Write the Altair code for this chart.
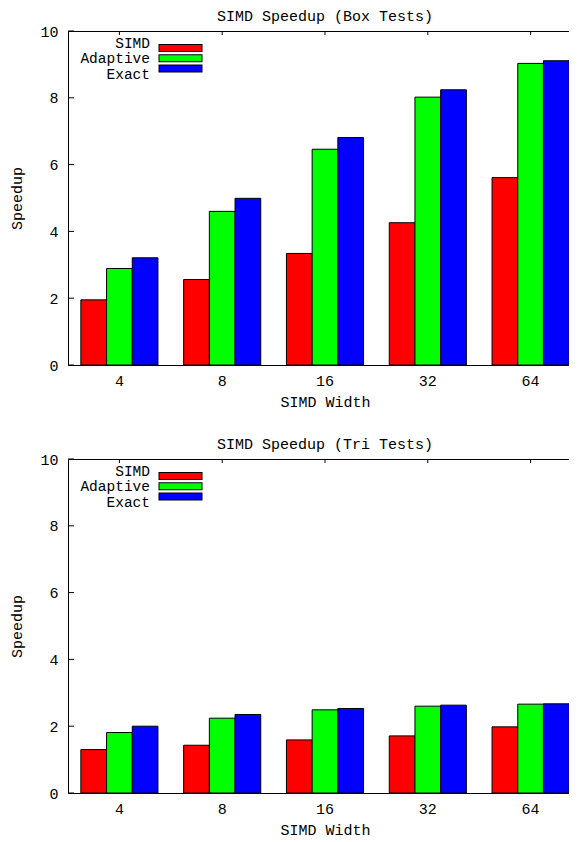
import altair as alt
import pandas as pd

widths = ["4", "8", "16", "32", "64"]
series = ["SIMD", "Adaptive", "Exact"]
colors = ["#ff0000", "#00ff00", "#0000ff"]

box_simd = [1.95, 2.56, 3.34, 4.26, 5.61]
box_adaptive = [2.89, 4.60, 6.46, 8.02, 9.03]
box_exact = [3.21, 4.99, 6.81, 8.24, 9.11]

tri_simd = [1.30, 1.43, 1.59, 1.71, 1.98]
tri_adaptive = [1.81, 2.24, 2.49, 2.60, 2.66]
tri_exact = [2.00, 2.35, 2.53, 2.63, 2.67]

y_ticks = [0, 2, 4, 6, 8, 10]

FONT = "Liberation Mono"
FS = 15
W, H = 514, 334


def panel(title, simd, adaptive, exact):
    rows = []
    for s, vals in zip(series, [simd, adaptive, exact]):
        for w, v in zip(widths, vals):
            rows.append({"width": w, "series": s, "value": v})
    df = pd.DataFrame(rows)

    xscale = alt.Scale(domain=widths, paddingInner=0.25, paddingOuter=0.125)
    yscale = alt.Scale(domain=[0, 10], nice=False, zero=True)
    cscale = alt.Scale(domain=series, range=colors)
    xaxis = alt.Axis(title="SIMD Width", labelAngle=0, tickSize=0, domain=False,
                     labelPadding=8, titlePadding=6, orient="bottom")

    bars = alt.Chart(df).mark_bar(stroke="black", strokeWidth=1, opacity=1).encode(
        x=alt.X("width:N", sort=widths, scale=xscale, axis=xaxis),
        xOffset=alt.XOffset("series:N", sort=series,
                            scale=alt.Scale(domain=series, paddingInner=0, paddingOuter=0)),
        y=alt.Y("value:Q", scale=yscale,
                axis=alt.Axis(title="Speedup", values=y_ticks, tickSize=0, domain=False,
                              grid=False, labelPadding=10, titlePadding=15.5)),
        color=alt.Color("series:N", sort=series, scale=cscale, legend=None),
    )

    tick_df = pd.DataFrame({"tick": y_ticks})
    left_ticks = alt.Chart(tick_df).mark_rule(color="black", strokeWidth=1).encode(
        y=alt.Y("tick:Q", scale=yscale, axis=None),
        x=alt.value(0), x2=alt.value(6),
    )
    right_ticks = alt.Chart(tick_df).mark_rule(color="black", strokeWidth=1).encode(
        y=alt.Y("tick:Q", scale=yscale, axis=None),
        x=alt.value(W - 6), x2=alt.value(W),
    )
    top_ticks = alt.Chart(pd.DataFrame({"width": widths})).mark_rule(
        color="black", strokeWidth=1).encode(
        x=alt.X("width:N", sort=widths, scale=xscale, axis=xaxis),
        y=alt.value(0), y2=alt.value(4),
    )

    leg_df = pd.DataFrame({"series": series})
    leg_y = alt.Y("series:N", sort=series,
                  scale=alt.Scale(domain=series, range=[12, 42.5], padding=0), axis=None)
    leg_border = alt.Chart(leg_df).mark_rule(color="black", strokeWidth=8).encode(
        x=alt.value(90.5), x2=alt.value(134.5), y=leg_y,
    )
    leg_fill = alt.Chart(leg_df).mark_rule(strokeWidth=6, opacity=1).encode(
        x=alt.value(91.5), x2=alt.value(133.5), y=leg_y,
        color=alt.Color("series:N", sort=series, scale=cscale, legend=None),
    )
    leg_txt = alt.Chart(leg_df).mark_text(
        align="right", baseline="middle", font=FONT, fontSize=14.5, color="black", dy=1
    ).encode(
        x=alt.value(82),
        y=leg_y,
        text="series:N",
    )

    return alt.layer(bars, left_ticks, right_ticks, top_ticks,
                     leg_border, leg_fill, leg_txt).resolve_scale(
        y="independent"
    ).properties(
        width=W, height=H,
        title=alt.TitleParams(title, font=FONT, fontSize=FS, fontWeight="normal",
                              color="black", anchor="middle", offset=0, frame="group"),
    )


top = panel("SIMD Speedup (Box Tests)", box_simd, box_adaptive, box_exact)
bottom = panel("SIMD Speedup (Tri Tests)", tri_simd, tri_adaptive, tri_exact)

chart = alt.vconcat(top, bottom, spacing=26).properties(
    padding={"left": 0, "top": 0, "right": -14, "bottom": 0}
).configure(
    font=FONT,
).configure_view(
    stroke="black", strokeWidth=1
).configure_axis(
    labelFont=FONT, titleFont=FONT, labelFontSize=FS, titleFontSize=FS,
    titleFontWeight="normal", labelColor="black", titleColor="black",
)

chart.save("out.html", embed_options={"renderer": "svg", "actions": False})
